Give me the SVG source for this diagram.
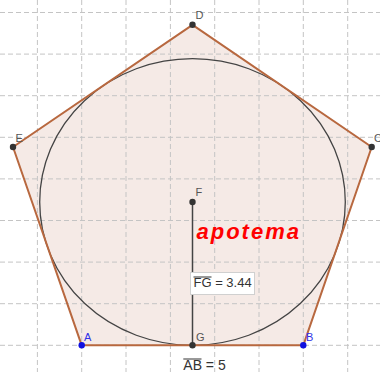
<svg xmlns="http://www.w3.org/2000/svg" width="380" height="372" viewBox="0 0 380 372">
<style>
.grid line{stroke:#c4c4c4;stroke-width:1;stroke-dasharray:5 3}
.lbl{font-family:"Liberation Sans",Arial,sans-serif;font-size:11px;fill:#555}
.blue{fill:#3030e8}
.pt{fill:#333}
.ptb{fill:#1010e0}
.val{font-family:"Liberation Sans",Arial,sans-serif;fill:#333}
</style>
<rect width="380" height="372" fill="#fff"/>
<g id="pentagon-fill">
<polygon points="81.7,345.3 303.3,345.3 371.7,147 192.5,24.8 13,147" fill="#b5603a" fill-opacity="0.13" stroke="none"/>
</g>
<g class="grid">
<line x1="37.4" y1="0" x2="37.4" y2="372"/>
<line x1="81.7" y1="0" x2="81.7" y2="372"/>
<line x1="126" y1="0" x2="126" y2="372"/>
<line x1="170.4" y1="0" x2="170.4" y2="372"/>
<line x1="214.7" y1="0" x2="214.7" y2="372"/>
<line x1="259" y1="0" x2="259" y2="372"/>
<line x1="303.3" y1="0" x2="303.3" y2="372"/>
<line x1="347.7" y1="0" x2="347.7" y2="372"/>
<line x1="0" y1="12.5" x2="380" y2="12.5"/>
<line x1="0" y1="54.1" x2="380" y2="54.1"/>
<line x1="0" y1="95.7" x2="380" y2="95.7"/>
<line x1="0" y1="137.3" x2="380" y2="137.3"/>
<line x1="0" y1="178.9" x2="380" y2="178.9"/>
<line x1="0" y1="220.5" x2="380" y2="220.5"/>
<line x1="0" y1="262.1" x2="380" y2="262.1"/>
<line x1="0" y1="303.7" x2="380" y2="303.7"/>
<line x1="0" y1="345.3" x2="380" y2="345.3"/>
</g>
<g id="circle">
<ellipse cx="192.5" cy="202" rx="152.8" ry="143.3" fill="none" stroke="#444" stroke-width="1.3"/>
</g>
<g id="connectors">
<polygon points="81.7,345.3 303.3,345.3 371.7,147 192.5,24.8 13,147" fill="none" stroke="#b8683f" stroke-width="2" stroke-linejoin="round"/>
<line x1="192.5" y1="202" x2="192.5" y2="345.3" stroke="#444" stroke-width="1.5"/>
</g>
<g id="node-A"><circle cx="81.7" cy="345.3" r="3.2" class="ptb"/><text x="84" y="341" class="lbl blue">A</text></g>
<g id="node-B"><circle cx="303.3" cy="345.3" r="3.2" class="ptb"/><text x="306" y="341" class="lbl blue">B</text></g>
<g id="node-C"><circle cx="371.7" cy="147" r="3.2" class="pt"/><text x="374" y="142" class="lbl">C</text></g>
<g id="node-D"><circle cx="192.5" cy="24.8" r="3.2" class="pt"/><text x="195.5" y="19" class="lbl">D</text></g>
<g id="node-E"><circle cx="13" cy="147" r="3.2" class="pt"/><text x="15.5" y="142" class="lbl">E</text></g>
<g id="node-F"><circle cx="192.5" cy="202" r="3.2" class="pt"/><text x="195.5" y="196" class="lbl">F</text></g>
<g id="node-G"><circle cx="192.5" cy="345.3" r="3.2" class="pt"/><text x="196" y="341" class="lbl">G</text></g>
<g id="label-apotema">
<text x="196.5" y="238.5" font-family="'Liberation Sans',Arial,sans-serif" font-size="22" font-weight="bold" font-style="italic" letter-spacing="2" fill="#ff0000">apotema</text>
</g>
<g id="label-FG">
<rect x="190.5" y="272.5" width="64" height="22" fill="#fff" stroke="#d0d0d0" stroke-width="1"/>
<text x="193.5" y="287" class="val" font-size="13">FG = 3.44</text>
<line x1="193.5" y1="277" x2="211.5" y2="277" stroke="#333" stroke-width="1"/>
</g>
<g id="label-AB">
<text x="183.3" y="370" class="val" font-size="14">AB = 5</text>
<line x1="183.3" y1="359" x2="201.5" y2="359" stroke="#333" stroke-width="1"/>
</g>
</svg>
